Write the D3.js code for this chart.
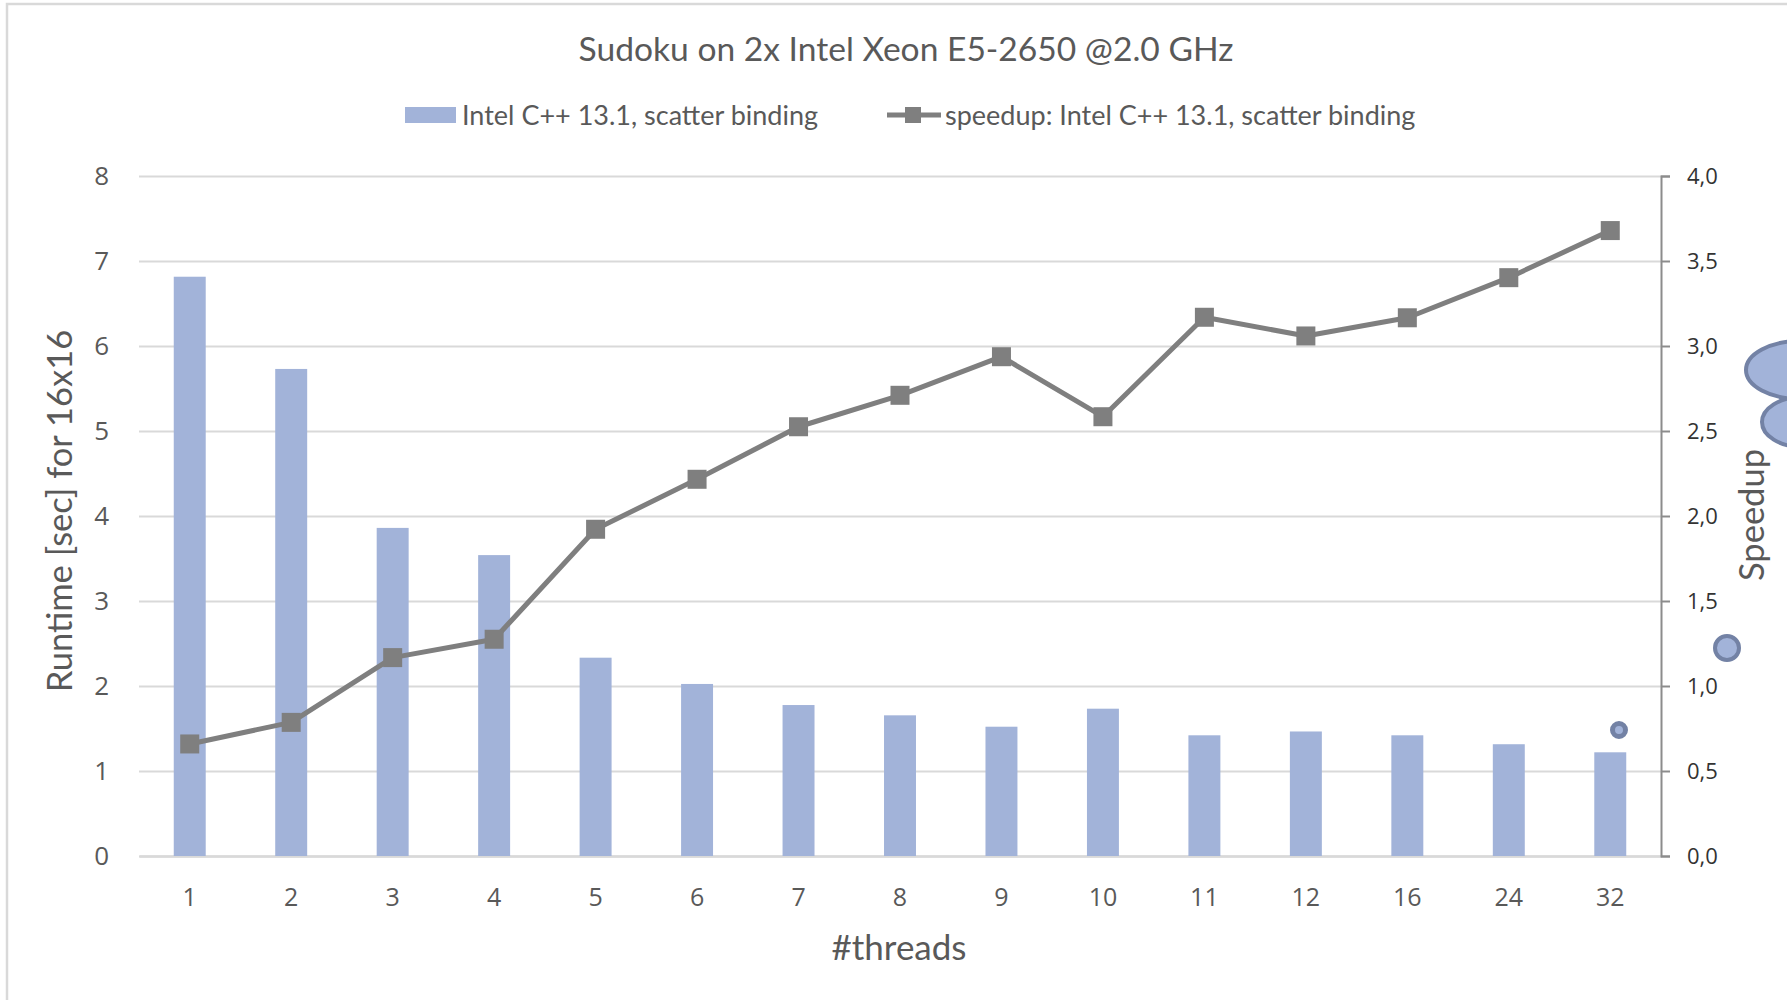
<!DOCTYPE html>
<html>
<head>
<meta charset="utf-8">
<script src="https://cdnjs.cloudflare.com/ajax/libs/d3/7.8.5/d3.min.js"></script>
<style>
  body { margin: 0; background: #fff; }
  svg { display: block; }
  .tick text { fill: #595959; }
</style>
</head>
<body>
<svg id="chart"></svg>
<script>
var threads = ["1", "2", "3", "4", "5", "6", "7", "8", "9", "10", "11", "12", "16", "24", "32"];
var runtime = [6.815, 5.73, 3.86, 3.54, 2.333, 2.024, 1.776, 1.655, 1.521, 1.733, 1.42, 1.465, 1.42, 1.315, 1.22];
var speedup = [0.659, 0.786, 1.167, 1.275, 1.922, 2.216, 2.525, 2.71, 2.937, 2.584, 3.169, 3.059, 3.166, 3.402, 3.679];
var leftTicks = [0, 1, 2, 3, 4, 5, 6, 7, 8];
var rightTicks = [0, 0.5, 1, 1.5, 2, 2.5, 3, 3.5, 4];
var barName = "Intel C++ 13.1, scatter binding",
	lineName = "speedup: Intel C++ 13.1, scatter binding";

var W = 1787, H = 1000,
	margin = {top: 176, left: 139, right: 126, bottom: 144},
	width = W - margin.left - margin.right,
	height = H - margin.top - margin.bottom,
	titleFont = "Lato, 'Open Sans', sans-serif",
	tickFont = "'Open Sans', 'Noto Sans', sans-serif",
	barColor = "#a2b3d9",
	lineColor = "#7f7f7f";

var svg = d3.select("#chart").attr("width", W).attr("height", H);
svg.append("rect").attr("width", W).attr("height", H).attr("fill", "#fff");

// outer chart frame (only top and left edges are visible in the crop)
svg.append("path")
	.attr("d", "M7," + H + "V4H" + W)
	.attr("fill", "none").attr("stroke", "#d9d9d9").attr("stroke-width", 2.5);

var g = svg.append("g").attr("transform", "translate(" + margin.left + "," + margin.top + ")");

var x = d3.scaleBand().domain(threads).range([0, width]).paddingInner(0.685).paddingOuter(0.3425),
	yL = d3.scaleLinear().domain([0, 8]).range([height, 0]),
	yR = d3.scaleLinear().domain([0, 4]).range([height, 0]);

//gridlines
g.append("g")
	.attr("class", "grid")
	.call(d3.axisLeft(yL).tickValues(leftTicks).tickSize(-width).tickFormat(""))
	.call(function(s) {
		s.select(".domain").remove();
		s.selectAll("line").attr("stroke", "#d9d9d9").attr("stroke-width", 2);
	});

//left axis labels
g.append("g")
	.call(d3.axisLeft(yL).tickValues(leftTicks).tickSize(0).tickPadding(30).tickFormat(d3.format("d")))
	.call(function(s) {
		s.select(".domain").remove();
		s.selectAll("text").attr("font-family", tickFont).attr("font-size", 26);
	});

//bottom axis
g.append("g")
	.attr("transform", "translate(0," + height + ")")
	.call(d3.axisBottom(x).tickSize(0).tickPadding(32))
	.call(function(s) {
		s.select(".domain").attr("stroke", "#d9d9d9").attr("stroke-width", 2.5);
		s.selectAll("text").attr("font-family", tickFont).attr("font-size", 25);
	});

//right axis
g.append("g")
	.attr("transform", "translate(" + width + ",0)")
	.call(d3.axisRight(yR).tickValues(rightTicks).tickSize(9).tickPadding(17)
		.tickFormat(function(d) { return d3.format(".1f")(d).replace(".", ","); }))
	.call(function(s) {
		s.select(".domain").attr("stroke", "#8c8c8c").attr("stroke-width", 2);
		s.selectAll("line").attr("stroke", "#8c8c8c").attr("stroke-width", 2);
		s.selectAll("text").attr("font-family", tickFont).attr("font-size", 22).style("fill", "#333");
	});

//bars
g.append("g").selectAll("rect")
	.data(runtime)
	.enter().append("rect")
		.attr("x", function(d, i) { return x(threads[i]); })
		.attr("y", function(d) { return yL(d); })
		.attr("width", x.bandwidth())
		.attr("height", function(d) { return height - yL(d); })
		.attr("fill", barColor);

//speedup line
var cx = function(i) { return x(threads[i]) + x.bandwidth() / 2; };
var lineFunc = d3.line()
	.x(function(d, i) { return cx(i); })
	.y(function(d) { return yR(d); });
g.append("path")
	.datum(speedup)
	.attr("d", lineFunc)
	.attr("fill", "none")
	.attr("stroke", lineColor)
	.attr("stroke-width", 5)
	.attr("stroke-linejoin", "round");

var ms = 19;
g.append("g").selectAll("rect")
	.data(speedup)
	.enter().append("rect")
		.attr("x", function(d, i) { return cx(i) - ms / 2; })
		.attr("y", function(d) { return yR(d) - ms / 2; })
		.attr("width", ms).attr("height", ms)
		.attr("fill", lineColor);

//titles
svg.append("text")
	.attr("x", 906).attr("y", 61)
	.attr("text-anchor", "middle")
	.attr("font-family", titleFont).attr("font-size", 33.6).attr("fill", "#595959")
	.text("Sudoku on 2x Intel Xeon E5-2650 @2.0 GHz");

svg.append("text")
	.attr("transform", "translate(72," + (margin.top + height / 2 - 5) + ") rotate(-90)")
	.attr("text-anchor", "middle")
	.attr("font-family", titleFont).attr("font-size", 34.5).attr("fill", "#595959")
	.text("Runtime [sec] for 16x16");

svg.append("text")
	.attr("transform", "translate(1764," + (margin.top + height / 2 - 1) + ") rotate(-90)")
	.attr("text-anchor", "middle")
	.attr("font-family", titleFont).attr("font-size", 34.5).attr("fill", "#595959")
	.text("Speedup");

svg.append("text")
	.attr("x", 899).attr("y", 960)
	.attr("text-anchor", "middle")
	.attr("font-family", titleFont).attr("font-size", 35).attr("fill", "#595959")
	.text("#threads");

//legend
var lg = svg.append("g").attr("transform", "translate(405,115)");
lg.append("rect").attr("x", 0).attr("y", -8).attr("width", 51).attr("height", 16).attr("fill", barColor);
lg.append("text").attr("x", 57).attr("y", 9.5)
	.attr("font-family", titleFont).attr("font-size", 27).attr("fill", "#595959")
	.text(barName);
lg.append("line").attr("x1", 482).attr("x2", 536).attr("y1", 0).attr("y2", 0)
	.attr("stroke", lineColor).attr("stroke-width", 5);
lg.append("rect").attr("x", 500).attr("y", -8).attr("width", 16).attr("height", 16).attr("fill", lineColor);
lg.append("text").attr("x", 540).attr("y", 9.5)
	.attr("font-family", titleFont).attr("font-size", 27).attr("fill", "#595959")
	.text(lineName);

//stray shapes at the right edge of the original picture
var deco = svg.append("g").attr("fill", barColor).attr("stroke", "#7382a5").attr("stroke-width", 4);
deco.append("ellipse").attr("cx", 1802).attr("cy", 422).attr("rx", 40).attr("ry", 25);
deco.append("ellipse").attr("cx", 1800).attr("cy", 370).attr("rx", 54).attr("ry", 29);
deco.append("circle").attr("cx", 1727).attr("cy", 648).attr("r", 12);
deco.append("circle").attr("cx", 1619).attr("cy", 730).attr("r", 6.5).attr("stroke-width", 5);
</script>
</body>
</html>
